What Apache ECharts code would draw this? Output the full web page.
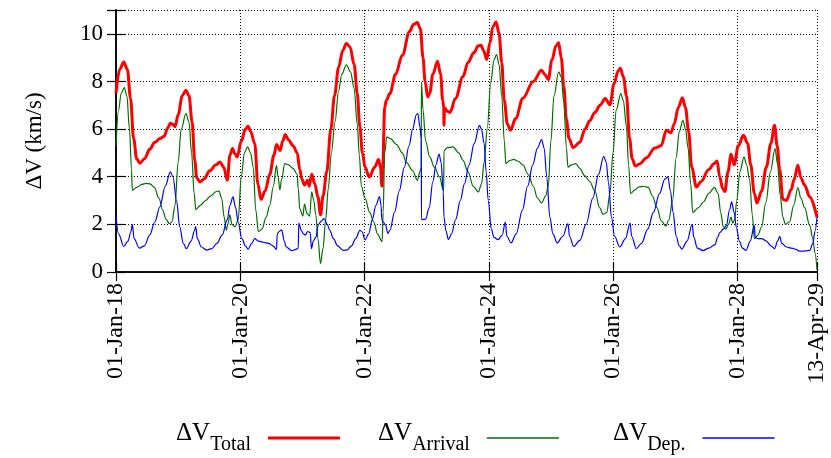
<!DOCTYPE html>
<html>
<head>
<meta charset="utf-8">
<script src="https://cdn.jsdelivr.net/npm/echarts@6/dist/echarts.min.js"></script>
<style>
  html, body { margin: 0; padding: 0; background: #fff; }
  #chart { width: 831px; height: 458px; }
</style>
</head>
<body>
<div id="chart"></div>
<script>
// Horizontal positions are months elapsed since 01-Jan-2018.
const tickMonths = [0, 24, 48, 72, 96, 120, 135.4];
const tickLabels = ['01-Jan-18', '01-Jan-20', '01-Jan-22', '01-Jan-24', '01-Jan-26', '01-Jan-28', '13-Apr-29'];

const seriesNames = ['Total', 'Arrival', 'Dep.'];

// Total delta-V (km/s)
const totalDv = [
  [0, 7.5], [0.7, 8.5], [1.5, 8.82], [2.2, 8.5], [2.8, 7.3], [3.4, 5.6], [4.0, 4.75], [4.6, 4.57],
  [5.5, 4.75], [6.5, 5.15], [7.5, 5.45], [8.5, 5.6], [9.3, 5.7], [10.0, 6.05], [10.5, 6.25], [11.0, 6.2],
  [11.4, 6.1], [12.0, 6.6], [12.8, 7.4], [13.5, 7.63], [14.1, 7.4], [14.7, 6.3], [15.2, 4.7], [15.6, 3.95],
  [16.2, 3.78], [17.0, 3.9], [18.1, 4.25], [19.3, 4.5], [20.1, 4.62], [20.8, 4.4], [21.5, 3.85], [22.0, 4.9],
  [22.5, 5.18], [23.0, 4.95], [23.4, 4.83], [24.2, 5.5], [25.0, 6.0], [25.5, 6.12], [26.0, 5.9], [26.8, 5.39],
  [27.4, 3.7], [28.0, 3.05], [28.8, 3.4], [29.7, 4.1], [30.5, 4.9], [31.0, 5.35], [31.7, 5.1], [32.2, 5.5],
  [32.7, 5.77], [33.3, 5.55], [34.2, 5.3], [35.0, 5.0], [35.5, 4.3], [35.9, 3.9], [36.4, 3.65], [37.0, 3.85],
  [37.3, 3.6], [37.8, 4.1], [38.4, 3.7], [39.0, 3.15], [39.5, 2.4], [40.0, 3.2], [40.7, 4.2], [41.5, 6.0],
  [42.2, 7.4], [43.0, 8.6], [43.8, 9.3], [44.5, 9.59], [45.2, 9.45], [46.0, 8.7], [46.6, 7.5], [47.1, 6.1],
  [47.6, 5.0], [48.1, 4.4], [48.9, 3.99], [50.0, 4.41], [50.7, 4.72], [51.1, 4.4], [51.35, 3.6], [51.5, 4.3],
  [51.9, 6.9], [52.2, 7.2], [52.9, 7.49], [54.0, 8.3], [55.3, 9.1], [56.7, 10.1], [57.5, 10.4], [58.2, 10.47],
  [58.8, 10.2], [59.3, 9.0], [59.7, 8.0], [60.2, 7.35], [60.6, 7.5], [61.2, 8.3], [62.1, 8.85], [62.7, 8.3],
  [63.1, 7.2], [63.3, 6.93], [63.35, 6.16], [63.45, 6.9], [64.0, 6.75], [64.5, 6.7], [65.6, 7.3], [67.0, 8.2],
  [68.0, 8.8], [69.1, 9.2], [70.0, 9.5], [70.5, 9.52], [71.0, 9.3], [71.6, 8.92], [72.2, 9.6], [72.8, 10.3],
  [73.4, 10.5], [74.0, 10.0], [74.5, 8.8], [75.0, 7.2], [75.6, 6.2], [76.2, 5.95], [77.2, 6.45], [78.6, 7.3],
  [80.6, 8.0], [82.2, 8.47], [82.8, 8.3], [83.5, 8.08], [84.2, 8.9], [85.0, 9.5], [85.5, 9.62], [86.0, 9.0],
  [86.5, 7.8], [87.0, 6.4], [87.5, 5.6], [88.3, 5.22], [89.6, 5.45], [90.6, 6.0], [91.5, 6.35], [92.5, 6.7],
  [93.5, 7.0], [94.5, 7.28], [95.4, 7.02], [96.2, 7.9], [97.0, 8.45], [97.4, 8.55], [98.0, 8.2], [98.6, 7.4],
  [99.2, 5.6], [99.7, 4.75], [100.3, 4.45], [101.2, 4.55], [102.5, 4.8], [104.0, 5.2], [105.3, 5.3], [106.3, 5.95],
  [107.2, 5.85], [107.8, 6.2], [108.6, 6.9], [109.4, 7.32], [110.0, 6.9], [110.6, 5.9], [111.2, 4.4], [112.1, 3.57],
  [113.0, 3.8], [114.5, 4.3], [115.5, 4.55], [116.1, 4.66], [116.6, 4.0], [117.2, 3.5], [117.6, 3.38], [118.2, 4.2],
  [118.8, 4.94], [119.4, 4.5], [120.2, 5.3], [121.2, 5.74], [122.0, 5.4], [122.6, 4.5], [123.3, 3.3], [123.8, 2.9],
  [124.7, 3.4], [125.6, 4.4], [126.5, 5.4], [127.2, 6.16], [127.7, 5.3], [128.2, 4.3], [128.8, 3.05], [129.5, 3.0],
  [130.4, 3.45], [131.0, 3.9], [131.7, 4.48], [132.3, 3.95], [133.0, 3.65], [134.0, 3.15], [135.4, 2.3]
];

// Arrival delta-V (km/s)
const arrivalDv = [
  [0, 5.3], [0.5, 6.8], [1.0, 7.5], [1.6, 7.74], [2.1, 7.4], [2.6, 6.0], [3.0, 4.3], [3.15, 3.43],
  [4.0, 3.55], [5.0, 3.68], [5.8, 3.72], [6.6, 3.7], [7.4, 3.55], [8.3, 3.1], [9.0, 2.6], [9.7, 2.2],
  [10.3, 2.03], [10.8, 2.1], [11.4, 2.8], [12.0, 4.6], [12.6, 6.0], [13.5, 6.65], [14.1, 6.3], [14.6, 5.0],
  [15.1, 3.3], [15.4, 2.62], [16.3, 2.8], [17.3, 3.0], [18.3, 3.2], [19.4, 3.38], [19.9, 3.4], [20.4, 3.1],
  [20.9, 2.3], [21.3, 1.75], [21.6, 2.0], [22.0, 2.4], [22.4, 2.0], [23.0, 1.9], [23.6, 2.2], [24.2, 4.0],
  [24.8, 5.0], [25.4, 5.25], [26.0, 5.0], [26.5, 4.4], [27.0, 2.6], [27.5, 1.7], [28.2, 1.8], [29.0, 2.3],
  [29.7, 2.8], [30.4, 3.6], [31.0, 4.48], [31.3, 4.0], [31.65, 3.45], [32.0, 3.9], [32.6, 4.55], [33.3, 4.5],
  [34.2, 4.35], [35.0, 4.1], [35.2, 3.5], [35.5, 2.65], [36.1, 2.35], [36.4, 2.85], [36.9, 2.45], [37.4, 2.35],
  [37.8, 3.36], [38.2, 3.0], [38.6, 2.4], [39.0, 1.4], [39.5, 0.35], [40.0, 1.0], [40.5, 2.2], [41.0, 3.5],
  [41.6, 5.0], [42.3, 6.3], [43.0, 7.6], [43.6, 8.3], [44.5, 8.7], [45.3, 8.4], [46.0, 7.7], [46.6, 6.2],
  [47.0, 4.9], [47.4, 3.6], [48.1, 3.1], [49.0, 2.5], [49.8, 2.1], [50.5, 1.6], [51.4, 1.28], [51.6, 2.5],
  [51.9, 5.0], [52.3, 5.67], [53.0, 5.6], [54.2, 5.35], [55.3, 5.0], [56.1, 4.6], [57.3, 4.25], [58.2, 3.85],
  [58.7, 4.2], [58.95, 4.4], [59.0, 7.98], [59.3, 6.8], [59.8, 5.5], [60.6, 4.83], [61.5, 4.4], [62.5, 3.99],
  [63.2, 3.45], [63.3, 3.4], [63.35, 5.1], [64.0, 5.22], [65.1, 5.25], [66.2, 5.0], [67.0, 4.7], [68.0, 4.2],
  [69.0, 3.6], [70.0, 3.36], [70.6, 3.7], [71.1, 4.6], [71.7, 6.0], [72.4, 8.0], [73.0, 8.9], [73.5, 9.13],
  [74.0, 8.7], [74.5, 7.4], [75.0, 5.5], [75.3, 4.55], [76.0, 4.68], [76.8, 4.73], [77.7, 4.65], [78.6, 4.5],
  [79.6, 4.1], [80.6, 3.6], [81.4, 3.1], [82.2, 2.9], [83.0, 3.2], [83.5, 3.6], [84.0, 5.5], [84.6, 7.4],
  [85.5, 8.4], [86.0, 8.2], [86.5, 7.1], [87.0, 5.2], [87.3, 4.4], [88.0, 4.5], [88.8, 4.55], [89.6, 4.35],
  [90.5, 4.05], [91.5, 3.8], [92.5, 3.4], [93.4, 2.7], [94.1, 2.42], [94.8, 2.5], [95.4, 3.3], [96.0, 5.0],
  [96.6, 6.8], [97.5, 7.49], [98.0, 7.2], [98.6, 6.1], [99.0, 4.5], [99.4, 3.29], [100.2, 3.45], [101.0, 3.57],
  [102.0, 3.6], [102.8, 3.55], [103.6, 3.2], [104.5, 2.7], [105.3, 2.15], [106.2, 1.93], [106.8, 2.2], [107.5, 3.0],
  [108.2, 4.8], [108.8, 5.9], [109.5, 6.37], [110.0, 6.0], [110.5, 5.2], [111.0, 3.7], [111.4, 2.5], [112.5, 2.7],
  [113.5, 2.95], [114.5, 3.3], [115.6, 3.55], [116.3, 3.3], [116.8, 2.5], [117.3, 1.9], [117.8, 1.8], [118.3, 2.0],
  [118.8, 2.3], [119.1, 2.05], [119.5, 2.2], [119.9, 3.0], [120.5, 4.2], [121.3, 4.83], [121.8, 4.5], [122.4, 3.85],
  [122.9, 2.4], [123.3, 1.4], [124.0, 1.55], [124.7, 1.9], [125.5, 2.9], [126.4, 4.2], [127.3, 5.18], [127.8, 4.5],
  [128.3, 3.2], [128.8, 2.3], [129.3, 2.0], [130.1, 2.1], [130.9, 2.8], [131.7, 3.54], [132.3, 3.1], [133.0, 2.7],
  [134.0, 1.95], [134.6, 1.4], [135.0, 0.8], [135.4, 0.1]
];

// Departure delta-V (km/s)
const departureDv = [
  [0, 2.35], [0.5, 1.6], [1.5, 1.07], [2.3, 1.3], [2.9, 1.7], [3.15, 2.0], [3.5, 1.4], [4.5, 1.0],
  [5.5, 1.1], [6.5, 1.55], [7.5, 2.1], [8.5, 2.75], [9.5, 3.6], [10.5, 4.2], [11.0, 4.0], [11.7, 3.0],
  [12.3, 1.9], [13.0, 1.2], [13.6, 0.98], [14.5, 1.3], [15.2, 1.75], [15.4, 1.91], [15.7, 1.4], [16.5, 1.05],
  [17.5, 0.92], [18.5, 0.98], [19.5, 1.2], [20.5, 1.55], [21.5, 2.2], [22.0, 2.8], [22.6, 3.15], [23.1, 2.7],
  [23.6, 2.1], [24.3, 1.4], [25.0, 1.1], [25.5, 0.95], [26.2, 1.2], [26.8, 1.4], [27.5, 1.3], [28.5, 1.25],
  [29.5, 1.2], [30.3, 1.1], [31.0, 0.95], [31.15, 1.6], [31.5, 1.7], [32.0, 1.77], [32.5, 1.3], [32.9, 1.05],
  [33.9, 0.9], [34.8, 0.95], [35.2, 1.0], [35.3, 2.05], [35.8, 1.75], [36.2, 1.6], [36.6, 1.55], [37.0, 1.7],
  [37.5, 1.65], [37.75, 0.98], [38.1, 1.3], [38.6, 1.45], [39.1, 2.0], [39.7, 2.15], [40.2, 2.24], [40.8, 2.0],
  [41.3, 1.75], [42.0, 1.4], [42.8, 1.1], [43.9, 0.91], [44.6, 0.92], [45.5, 1.1], [46.3, 1.4], [47.1, 1.75],
  [47.5, 1.7], [48.1, 1.35], [48.8, 1.6], [49.5, 2.2], [50.2, 2.8], [50.9, 3.17], [51.2, 2.8], [51.35, 2.2],
  [51.6, 2.1], [52.1, 1.95], [52.5, 1.62], [52.9, 1.75], [53.8, 2.5], [54.7, 3.4], [55.7, 4.4], [56.6, 5.3],
  [57.3, 6.0], [58.0, 6.6], [58.3, 6.65], [58.7, 6.1], [58.97, 5.6], [59.0, 2.2], [59.8, 2.22], [60.5, 2.7],
  [61.2, 3.8], [61.8, 4.5], [62.4, 4.95], [62.8, 4.6], [63.2, 3.4], [63.35, 2.3], [63.7, 1.75], [64.2, 1.36],
  [64.8, 1.6], [65.6, 2.2], [66.5, 3.0], [67.3, 3.7], [68.2, 4.5], [69.2, 5.4], [70.2, 6.16], [70.6, 6.0],
  [71.1, 5.4], [71.5, 4.2], [71.9, 3.0], [72.5, 1.8], [73.0, 1.45], [73.8, 1.36], [74.6, 1.55], [75.2, 2.1],
  [75.5, 1.5], [76.3, 1.22], [77.3, 1.6], [78.5, 2.6], [79.5, 3.6], [80.5, 4.5], [81.4, 5.2], [82.2, 5.56],
  [82.7, 5.2], [83.2, 4.0], [83.8, 2.3], [84.4, 1.6], [85.2, 1.22], [86.3, 1.5], [87.3, 2.03], [87.6, 1.5],
  [88.4, 1.07], [89.6, 1.33], [90.8, 2.0], [92.1, 3.1], [93.2, 4.1], [94.2, 4.86], [94.7, 4.6], [95.1, 3.8],
  [95.7, 2.3], [96.3, 1.5], [97.3, 1.05], [98.4, 1.4], [99.3, 2.05], [99.6, 1.5], [100.5, 0.98], [101.5, 1.2],
  [102.7, 1.8], [103.8, 2.5], [105.0, 3.3], [106.0, 3.9], [106.6, 3.99], [107.1, 3.4], [107.6, 2.5], [108.2, 1.5],
  [108.8, 1.1], [109.3, 0.96], [110.3, 1.3], [111.3, 2.0], [111.6, 1.45], [112.3, 1.0], [113.4, 0.9], [114.5, 1.0],
  [115.7, 1.15], [116.2, 1.45], [116.6, 1.65], [117.3, 1.8], [117.9, 1.95], [118.5, 2.6], [118.9, 2.94], [119.4, 2.5],
  [119.8, 1.9], [120.4, 1.3], [121.0, 1.0], [121.7, 0.91], [122.5, 1.3], [123.3, 1.96], [123.45, 1.45], [124.0, 1.4],
  [124.7, 1.4], [125.6, 1.3], [126.5, 1.1], [127.2, 0.98], [127.8, 1.3], [128.2, 1.5], [128.6, 1.2], [129.5, 1.05],
  [130.5, 1.0], [131.4, 0.95], [131.9, 0.88], [133.0, 0.88], [134.0, 0.91], [134.6, 1.2], [135.0, 1.7], [135.4, 2.3]
];

const FONT = '"Liberation Serif", "DejaVu Serif", serif';
const colors = ['#ff0000', '#006f00', '#0000ff'];
const widths = [3, 1.2, 1.2];
const legendBar = [3, 1.6, 1.6];
const dataSets = [totalDv, arrivalDv, departureDv];

const chart = echarts.init(document.getElementById('chart'), null, { renderer: 'canvas' });

const frameLine = { show: true, lineStyle: { color: '#000', width: 1.5 } };
const innerTick = { show: true, inside: true, length: 9, lineStyle: { color: '#000', width: 1.2 } };
const dotted = { show: true, lineStyle: { color: '#000', width: 1, type: [1, 2] } };

const tickLabelFor = v => {
  const i = tickMonths.findIndex(t => Math.abs(t - v) < 0.01);
  return i >= 0 ? tickLabels[i] : '';
};

const legendX = [171, 373, 608];

chart.setOption({
  animation: false,
  backgroundColor: '#fff',
  textStyle: { fontFamily: FONT },
  grid: { left: 116, right: 14, top: 10, bottom: 186, containLabel: false },
  legend: seriesNames.map((name, i) => ({
    show: true,
    orient: 'horizontal',
    data: [{ name: 'ΔV ' + name, icon: 'rect' }],
    left: legendX[i],
    top: 416,
    align: 'right',
    itemWidth: 72,
    itemHeight: legendBar[i],
    formatter: () => '{a|ΔV}{b|' + name + '}',
    textStyle: {
      color: '#000',
      fontFamily: FONT,
      fontSize: 25,
      rich: {
        a: { fontFamily: FONT, fontSize: 25, color: '#000', verticalAlign: 'bottom', padding: [0, 0, 9, 0] },
        b: { fontFamily: FONT, fontSize: 20, color: '#000', verticalAlign: 'bottom', padding: [0, 12, 0, 0] }
      }
    }
  })),
  xAxis: [
    {
      type: 'value', position: 'bottom', min: 0, max: tickMonths[tickMonths.length - 1], interval: 24,
      axisLine: frameLine, axisTick: innerTick, splitLine: dotted,
      axisLabel: {
        rotate: 90, margin: 11, color: '#000', fontFamily: FONT, fontSize: 24,
        formatter: tickLabelFor
      }
    },
    {
      type: 'value', position: 'top', min: 0, max: tickMonths[tickMonths.length - 1], interval: 24,
      axisLine: frameLine, axisTick: innerTick, splitLine: { show: false }, axisLabel: { show: false }
    }
  ],
  yAxis: [
    {
      type: 'value', position: 'left', min: 0, max: 11, interval: 2,
      axisLine: frameLine, axisTick: innerTick, splitLine: dotted,
      name: 'ΔV (km/s)', nameLocation: 'middle', nameGap: 70, nameRotate: 90,
      nameTextStyle: { color: '#000', fontFamily: FONT, fontSize: 23 },
      axisLabel: {
        margin: 13, color: '#000', fontFamily: FONT, fontSize: 23,
        formatter: v => (v % 2 === 0 ? String(v) : '')
      }
    },
    {
      type: 'value', position: 'right', min: 0, max: 11, interval: 2,
      axisLine: frameLine, axisTick: innerTick, splitLine: { show: false }, axisLabel: { show: false }
    }
  ],
  series: seriesNames.map((name, i) => ({
    name: 'ΔV ' + name,
    type: 'line',
    xAxisIndex: 0,
    yAxisIndex: 0,
    data: dataSets[i],
    showSymbol: false,
    symbol: 'none',
    smooth: 0.35,
    smoothMonotone: 'x',
    color: colors[i],
    lineStyle: { color: colors[i], width: widths[i] },
    z: 3 + i
  }))
});
</script>
</body>
</html>
